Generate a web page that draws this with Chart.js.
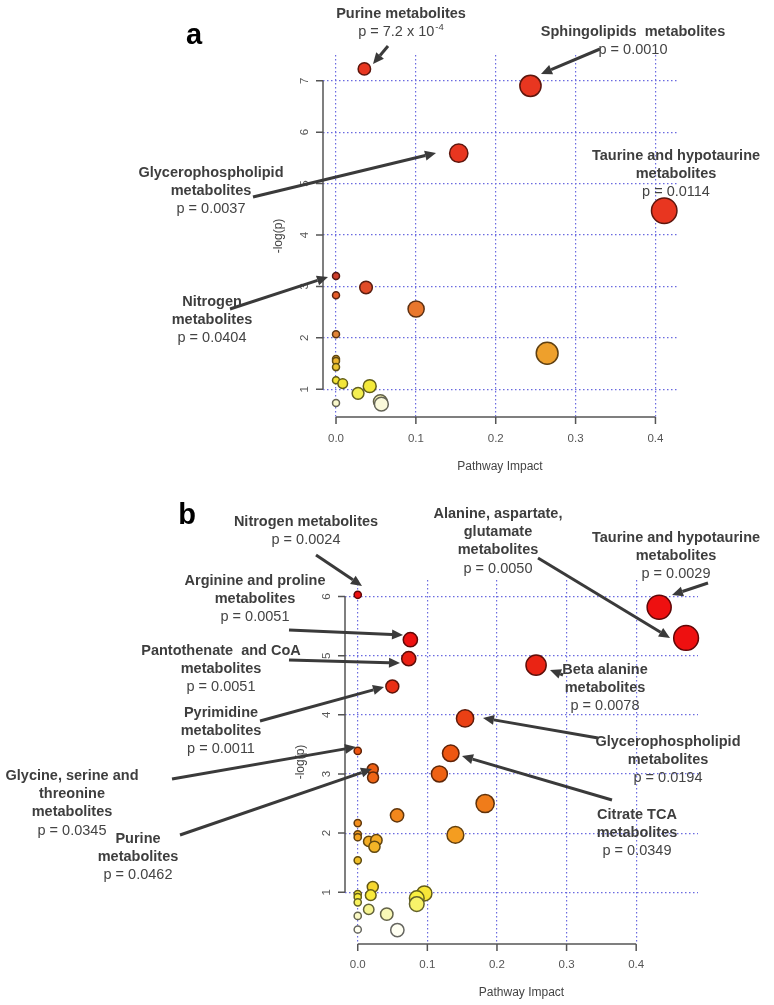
<!DOCTYPE html>
<html>
<head>
<meta charset="utf-8">
<script src="https://cdn.jsdelivr.net/npm/chart.js@4.4.0/dist/chart.umd.min.js"></script>
<style>
  html, body { margin: 0; padding: 0; background: #fff; }
  #wrap { position: relative; width: 774px; height: 1005px; overflow: hidden; }
  .panel { position: absolute; left: 0; width: 774px; }
  #panelA { top: 0; height: 480px; }
  #panelB { top: 480px; height: 525px; }
</style>
</head>
<body>
<div id="wrap">
  <div class="panel" id="panelA"><canvas id="chartA"></canvas></div>
  <div class="panel" id="panelB"><canvas id="chartB"></canvas></div>
</div>
<script>
const FONT = '"Liberation Sans", Arial, sans-serif';

// ---- panel a data: pathway impact vs -log(p)
const aImpact = [0.0355, 0.2435, 0.1537, 0.411, 0, 0.0376, 0, 0.1003, 0, 0.2644,
                 0, 0, 0, 0, 0.0084, 0.0276, 0.0422, 0.0555, 0.0568, 0];
const aLogP   = [7.23, 6.90, 5.59, 4.47, 3.20, 2.98, 2.83, 2.56, 2.07, 1.70,
                 1.59, 1.55, 1.43, 1.175, 1.11, 0.92, 1.06, 0.76, 0.71, 0.73];
const aXTicks = [0, 0.1, 0.2, 0.3, 0.4];
const aYTicks = [1, 2, 3, 4, 5, 6, 7];

// ---- panel b data
const bImpact = [0, 0.433, 0.4717, 0.0756, 0.0733, 0.2562, 0.0497, 0.1542, 0, 0.1336,
                 0.0216, 0.022, 0.1173, 0.183, 0.0565, 0, 0.1403, 0, 0, 0.0158,
                 0.0268, 0.024, 0, 0.0216, 0.0187, 0.0957, 0.0848, 0.0848, 0, 0,
                 0, 0.0158, 0.0417, 0, 0, 0.0569];
const bLogP   = [6.03, 5.82, 5.30, 5.27, 4.95, 4.84, 4.48, 3.94, 3.39, 3.35,
                 3.08, 2.94, 3.00, 2.50, 2.30, 2.17, 1.97, 1.98, 1.93, 1.86,
                 1.88, 1.77, 1.54, 1.09, 0.95, 0.98, 0.90, 0.80, 0.97, 0.92,
                 0.83, 0.71, 0.63, 0.60, 0.37, 0.36];
const bXTicks = [0, 0.1, 0.2, 0.3, 0.4];
const bYTicks = [1, 2, 3, 4, 5, 6];

// heat colours by -log(p), [value, rgb] ascending
const aHeat = [
  [0.70, [250, 249, 226]], [0.80, [246, 244, 150]], [0.95, [244, 238, 62]],
  [1.20, [242, 226, 52]], [1.45, [236, 196, 48]], [1.70, [238, 160, 44]],
  [2.10, [226, 130, 56]], [2.60, [234, 118, 44]], [2.95, [228, 78, 40]],
  [3.20, [206, 62, 44]], [4.40, [232, 54, 32]]
];
const bHeat = [
  [0.36, [255, 255, 242]], [0.60, [250, 249, 196]], [0.72, [246, 244, 140]],
  [0.90, [250, 240, 64]], [1.10, [246, 214, 44]], [1.55, [240, 190, 40]],
  [1.85, [244, 176, 38]], [2.00, [244, 152, 30]], [2.50, [240, 124, 26]],
  [3.00, [238, 98, 20]], [3.40, [238, 84, 16]], [4.00, [234, 62, 20]],
  [4.90, [234, 34, 20]], [5.30, [238, 16, 16]]
];

function heatColor(v, stops) {
  if (v <= stops[0][0]) return stops[0][1];
  for (let i = 1; i < stops.length; i++) {
    if (v <= stops[i][0]) {
      const [v0, c0] = stops[i - 1], [v1, c1] = stops[i];
      const t = (v - v0) / (v1 - v0);
      return c0.map((c, j) => Math.round(c + (c1[j] - c) * t));
    }
  }
  return stops[stops.length - 1][1];
}
const rgb = c => `rgb(${c[0]},${c[1]},${c[2]})`;
const darker = c => rgb(c.map(v => Math.round(v * 0.4)));

// ---- annotations (page coordinates)
const aLabels = [
  { x: 401, y: 14, lines: ['Purine metabolites'], p: 'p = 7.2 x 10', sup: '-4' },
  { x: 633, y: 32, lines: ['Sphingolipids  metabolites'], p: 'p = 0.0010' },
  { x: 676, y: 156, lines: ['Taurine and hypotaurine', 'metabolites'], p: 'p = 0.0114' },
  { x: 211, y: 173, lines: ['Glycerophospholipid', 'metabolites'], p: 'p = 0.0037' },
  { x: 212, y: 302, lines: ['Nitrogen', 'metabolites'], p: 'p = 0.0404' }
];
const aArrows = [
  [388, 46, 373, 64], [600, 49, 541, 74], [253, 197, 436, 153], [230, 309, 328, 277]
];
const bLabels = [
  { x: 306, y: 522, lines: ['Nitrogen metabolites'], p: 'p = 0.0024' },
  { x: 255, y: 581, lines: ['Arginine and proline', 'metabolites'], p: 'p = 0.0051' },
  { x: 221, y: 651, lines: ['Pantothenate  and CoA', 'metabolites'], p: 'p = 0.0051' },
  { x: 221, y: 713, lines: ['Pyrimidine', 'metabolites'], p: 'p = 0.0011' },
  { x: 72, y: 776, lines: ['Glycine, serine and', 'threonine', 'metabolites'], p: 'p = 0.0345' },
  { x: 138, y: 839, lines: ['Purine', 'metabolites'], p: 'p = 0.0462' },
  { x: 498, y: 514, lines: ['Alanine, aspartate,', 'glutamate', 'metabolites'], p: 'p = 0.0050' },
  { x: 676, y: 538, lines: ['Taurine and hypotaurine', 'metabolites'], p: 'p = 0.0029' },
  { x: 605, y: 670, lines: ['Beta alanine', 'metabolites'], p: 'p = 0.0078' },
  { x: 668, y: 742, lines: ['Glycerophospholipid', 'metabolites'], p: 'p = 0.0194' },
  { x: 637, y: 815, lines: ['Citrate TCA', 'metabolites'], p: 'p = 0.0349' }
];
const bArrows = [
  [316, 555, 362, 586], [289, 630, 403, 635], [289, 660, 400, 663], [260, 721, 384, 687],
  [172, 779, 356, 747], [180, 835, 372, 769], [538, 558, 670, 638], [708, 583, 672, 595],
  [563, 675, 550, 670], [598, 738, 483, 718], [612, 800, 462, 756]
];

// R-style axes drawn beside the plot region
const rAxes = {
  id: 'rAxes',
  afterDraw(chart, args, o) {
    const { ctx, chartArea: ca, scales: { x, y } } = chart;
    const xs = o.xTicks.map(v => x.getPixelForValue(v));
    const ys = o.yTicks.map(v => y.getPixelForValue(v));
    ctx.save();
    ctx.strokeStyle = '#555';
    ctx.lineWidth = 1.5;
    ctx.beginPath();
    ctx.moveTo(xs[0], ca.bottom); ctx.lineTo(xs[xs.length - 1], ca.bottom);
    xs.forEach(px => { ctx.moveTo(px, ca.bottom); ctx.lineTo(px, ca.bottom + 7); });
    ctx.moveTo(ca.left, ys[0]); ctx.lineTo(ca.left, ys[ys.length - 1]);
    ys.forEach(py => { ctx.moveTo(ca.left, py); ctx.lineTo(ca.left - 7, py); });
    ctx.stroke();

    ctx.fillStyle = '#555';
    ctx.font = `11.5px ${FONT}`;
    ctx.textAlign = 'center';
    ctx.textBaseline = 'middle';
    o.xTicks.forEach((v, i) => ctx.fillText(v.toFixed(1), xs[i], ca.bottom + o.xGap));
    o.yTicks.forEach((v, i) => {
      ctx.save();
      ctx.translate(ca.left - o.yGap, ys[i]);
      ctx.rotate(-Math.PI / 2);
      ctx.fillText(String(v), 0, 0);
      ctx.restore();
    });
    ctx.fillStyle = '#444';
    ctx.font = `12px ${FONT}`;
    ctx.fillText('Pathway Impact', (ca.left + ca.right) / 2, ca.bottom + o.titleGap);
    ctx.save();
    ctx.translate(ca.left - 44, (ca.top + ca.bottom) / 2);
    ctx.rotate(-Math.PI / 2);
    ctx.fillText('-log(p)', 0, 0);
    ctx.restore();
    ctx.restore();
  }
};

// labels and arrows
const notes = {
  id: 'notes',
  afterDraw(chart, args, o) {
    const ctx = chart.ctx;
    const dy = o.offsetY;
    ctx.save();
    ctx.fillStyle = '#000';
    ctx.font = `bold 29px ${FONT}`;
    ctx.textAlign = 'center';
    ctx.textBaseline = 'middle';
    ctx.fillText(o.letter[0], o.letter[1], o.letter[2] - dy);

    ctx.strokeStyle = '#3a3a3a';
    ctx.fillStyle = '#3a3a3a';
    ctx.lineWidth = 3;
    o.arrows.forEach(([x1, y1, x2, y2]) => {
      y1 -= dy; y2 -= dy;
      const ang = Math.atan2(y2 - y1, x2 - x1);
      const hl = 11, hw = 5;
      const bx = x2 - hl * Math.cos(ang), by = y2 - hl * Math.sin(ang);
      ctx.beginPath(); ctx.moveTo(x1, y1); ctx.lineTo(bx, by); ctx.stroke();
      ctx.beginPath();
      ctx.moveTo(x2, y2);
      ctx.lineTo(bx + hw * Math.sin(ang), by - hw * Math.cos(ang));
      ctx.lineTo(bx - hw * Math.sin(ang), by + hw * Math.cos(ang));
      ctx.closePath(); ctx.fill();
    });

    const lh = 18.2;
    o.labels.forEach(l => {
      let yy = l.y - dy;
      ctx.fillStyle = '#3e3e3e';
      ctx.font = `bold 14.5px ${FONT}`;
      ctx.textAlign = 'center';
      l.lines.forEach(t => { ctx.fillText(t, l.x, yy); yy += lh; });
      ctx.fillStyle = '#444';
      ctx.font = `14.5px ${FONT}`;
      if (l.sup) {
        const w1 = ctx.measureText(l.p).width;
        ctx.font = `9.5px ${FONT}`;
        const w2 = ctx.measureText(l.sup).width;
        const x0 = l.x - (w1 + w2 + 1) / 2;
        ctx.textAlign = 'left';
        ctx.fillText(l.sup, x0 + w1 + 1, yy - 5);
        ctx.font = `14.5px ${FONT}`;
        ctx.fillText(l.p, x0, yy);
      } else {
        ctx.fillText(l.p, l.x, yy);
      }
    });
    ctx.restore();
  }
};

function scaleCfg(min, max, ticks, horizontal) {
  return {
    type: 'linear',
    min: min,
    max: max,
    afterBuildTicks: s => { s.ticks = ticks.map(v => ({ value: v })); },
    afterFit: s => { if (horizontal) s.height = 0; else s.width = 0; },
    ticks: { display: false },
    border: { display: false, dash: [1.5, 2.5] },
    grid: { color: '#6a6ae0', lineWidth: 1.2, drawTicks: false }
  };
}

function renderPathwayChart(canvasId, impact, logP, heat, rScale, cfg) {
  const colors = logP.map(v => heatColor(v, heat));
  new Chart(document.getElementById(canvasId), {
    type: 'bubble',
    data: {
      datasets: [{
        data: impact.map((x, i) => ({ x: x, y: logP[i], r: rScale[0] + rScale[1] * Math.sqrt(x) })),
        backgroundColor: colors.map(rgb),
        borderColor: colors.map(darker),
        borderWidth: 1.5,
        clip: false
      }]
    },
    options: {
      responsive: true,
      maintainAspectRatio: false,
      animation: false,
      layout: { padding: cfg.padding },
      scales: {
        x: scaleCfg(cfg.xMin, cfg.xMax, cfg.xTicks, true),
        y: scaleCfg(cfg.yMin, cfg.yMax, cfg.yTicks, false)
      },
      plugins: {
        legend: { display: false },
        tooltip: { enabled: false },
        rAxes: { xTicks: cfg.xTicks, yTicks: cfg.yTicks, xGap: cfg.xGap, yGap: cfg.yGap, titleGap: cfg.titleGap },
        notes: { offsetY: cfg.offsetY, labels: cfg.labels, arrows: cfg.arrows, letter: cfg.letter }
      }
    },
    plugins: [rAxes, notes]
  });
}

renderPathwayChart('chartA', aImpact, aLogP, aHeat, [3.5, 14.4], {
  padding: { left: 323, right: 97, top: 55, bottom: 63 },
  xMin: -0.0163, xMax: 0.427, yMin: 0.46, yMax: 7.50,
  xTicks: aXTicks, yTicks: aYTicks, xGap: 22, yGap: 18, titleGap: 50,
  offsetY: 0, labels: aLabels, arrows: aArrows, letter: ['a', 194, 36]
});

renderPathwayChart('chartB', bImpact, bLogP, bHeat, [3.6, 12.8], {
  padding: { left: 345, right: 76, top: 100, bottom: 61 },
  xMin: -0.0183, xMax: 0.4888, yMin: 0.125, yMax: 6.28,
  xTicks: bXTicks, yTicks: bYTicks, xGap: 21, yGap: 18, titleGap: 49,
  offsetY: 480, labels: bLabels, arrows: bArrows, letter: ['b', 187, 516]
});
</script>
</body>
</html>
